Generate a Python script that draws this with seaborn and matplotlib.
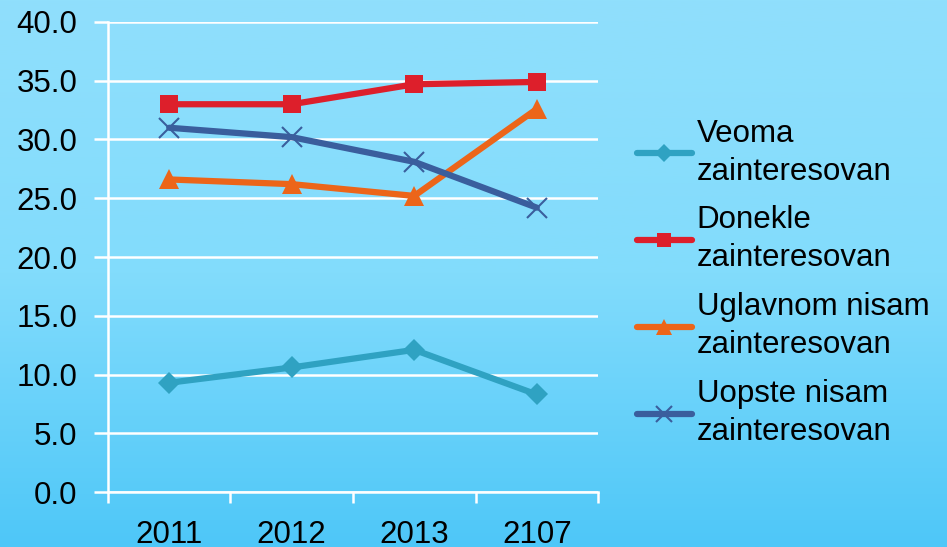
import numpy as np
import pandas as pd
import matplotlib
matplotlib.use("Agg")
import matplotlib.pyplot as plt
from matplotlib.colors import LinearSegmentedColormap
import seaborn as sns

# ── Data ──────────────────────────────────────────────────────────────────────
YEARS = ["2011", "2012", "2013", "2107"]
SERIES = [
    "Veoma\nzainteresovan",
    "Donekle\nzainteresovan",
    "Uglavnom nisam\nzainteresovan",
    "Uopste nisam\nzainteresovan",
]
VEOMA    = [9.3, 10.6, 12.1, 8.3]
DONEKLE  = [33.0, 33.0, 34.7, 34.9]
UGLAVNOM = [26.6, 26.2, 25.2, 32.6]
UOPSTE   = [31.0, 30.2, 28.1, 24.2]
Y_TICKS  = [0, 5, 10, 15, 20, 25, 30, 35, 40]

COLORS  = ["#2FA2C2", "#DD1F2B", "#EC6519", "#3A5E9D"]
MARKERS = ["D", "s", "^", "x"]
MSIZES  = [11, 13, 15, 15]

df = pd.DataFrame({
    "year": YEARS * 4,
    "value": VEOMA + DONEKLE + UGLAVNOM + UOPSTE,
    "series": [s for s in SERIES for _ in YEARS],
})

sns.set_style("white")
plt.rcParams["font.family"] = ["Liberation Sans", "DejaVu Sans"]
plt.rcParams.update({"text.color": "black", "xtick.labelcolor": "black",
                     "ytick.labelcolor": "black"})

fig = plt.figure(figsize=(9.47, 5.47), dpi=100)

# gradient backdrop
bg = fig.add_axes([0, 0, 1, 1], zorder=-10)
grad = LinearSegmentedColormap.from_list("bg", ["#90DFFC", "#82DCFC", "#4EC7F8"])
bg.imshow(np.linspace(0, 1, 256).reshape(-1, 1), aspect="auto", cmap=grad,
          extent=[0, 1, 0, 1])
bg.axis("off")

ax = fig.add_axes([0.114, 0.1005, 0.5175, 0.8593])
ax.set_facecolor("none")

for name, color, mk, ms in zip(SERIES, COLORS, MARKERS, MSIZES):
    sub = df[df["series"] == name]
    sns.lineplot(
        data=sub, x="year", y="value", color=color, marker=mk,
        markersize=ms, markeredgewidth=1.5 if mk == "x" else 0,
        markeredgecolor=color, linewidth=4.5, sort=False, label=name, ax=ax,
    )

ax.set_xlim(-0.5, 3.5)
ax.set_ylim(0, 40)
ax.set_yticks(Y_TICKS)
ax.set_yticklabels([f"{v:.1f}" for v in Y_TICKS])
ax.set_xticks(range(len(YEARS)))
ax.set_xticklabels(YEARS)
ax.set_xticks(np.arange(-0.5, 4.0, 1.0), minor=True)
ax.set_xlabel("")
ax.set_ylabel("")

ax.grid(axis="y", color="white", linewidth=1.8)
ax.set_axisbelow(True)
for side in ["top", "right"]:
    ax.spines[side].set_visible(False)
for side in ["left", "bottom"]:
    ax.spines[side].set_color("white")
    ax.spines[side].set_linewidth(1.8)

ax.tick_params(axis="y", which="major", length=10, width=1.8, color="white",
               labelsize=22.5, pad=12, left=True, labelcolor="black")
ax.tick_params(axis="x", which="major", length=0, labelsize=22.5, pad=20,
               labelcolor="black")
ax.tick_params(axis="x", which="minor", length=8, width=1.8, color="white",
               bottom=True)

handles, labels = ax.get_legend_handles_labels()
leg = ax.legend(
    handles, labels, loc="upper left", bbox_to_anchor=(0.6595, 0.806),
    bbox_transform=fig.transFigure, frameon=False, fontsize=22.5,
    handlelength=1.75, handletextpad=0.16, labelspacing=0.6,
    borderaxespad=0, markerscale=0.8,
)
for t in leg.get_texts():
    t.set_linespacing(1.35)
    t.set_color("black")

fig.savefig("out.png", dpi=100)
